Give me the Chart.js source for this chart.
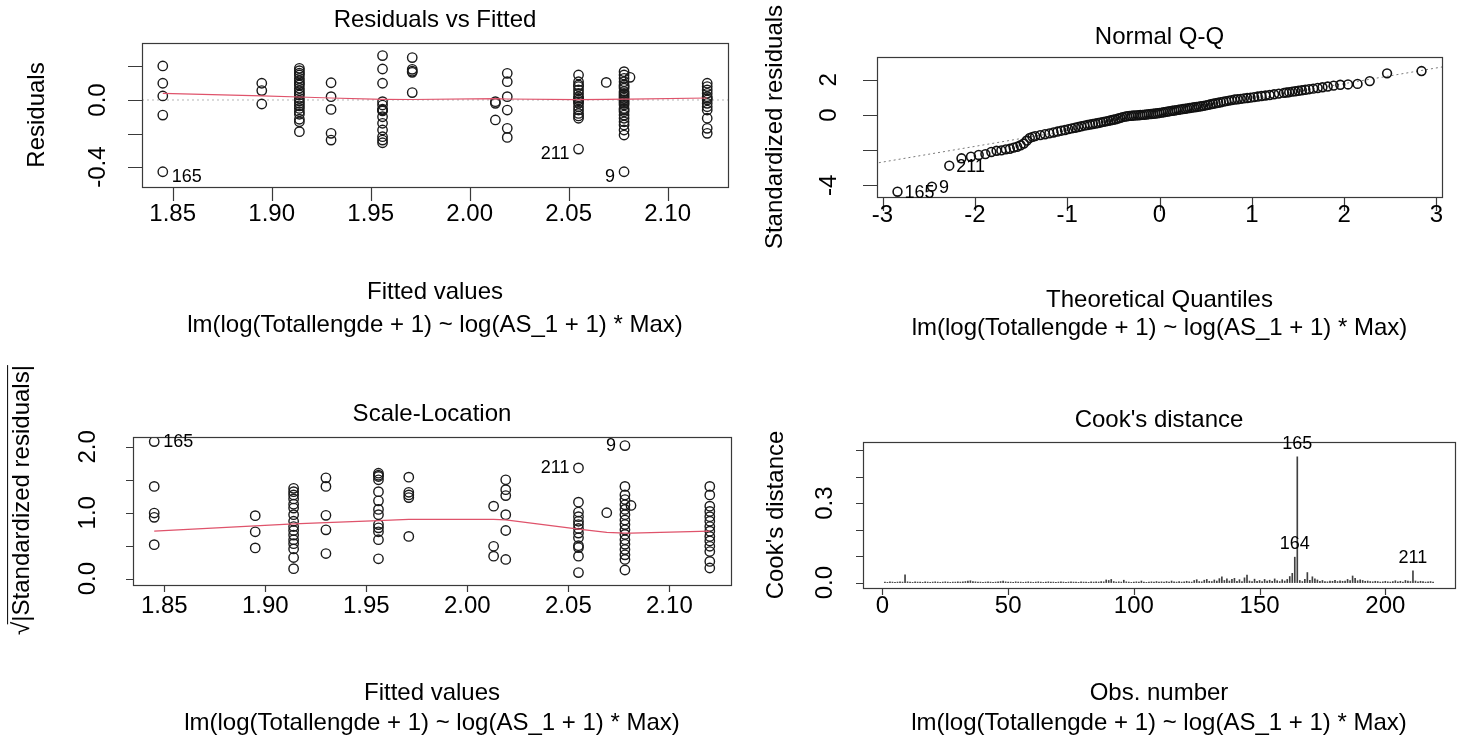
<!DOCTYPE html>
<html>
<head>
<meta charset="utf-8">
<title>lm diagnostics</title>
<script src="https://cdn.jsdelivr.net/npm/chart.js@4.4.1/dist/chart.umd.min.js"></script>
<style>
  html, body { margin: 0; padding: 0; background: #fff; }
  #page { position: relative; width: 1467px; height: 742px; overflow: hidden; }
  #page canvas { position: absolute; left: 0; top: 0; }
</style>
</head>
<body>
<div id="page">
  <canvas id="resFit" width="1467" height="742"></canvas>
  <canvas id="normQQ" width="1467" height="742"></canvas>
  <canvas id="scaleLoc" width="1467" height="742"></canvas>
  <canvas id="cooks" width="1467" height="742"></canvas>
</div>
<script>
// ---- values ----

// fitted values take only a few distinct levels
const fittedGroups = [1.845, 1.895, 1.914, 1.930, 1.956, 1.971, 2.013, 2.019, 2.055, 2.069, 2.078, 2.081, 2.120];

// residuals at each fitted level
const residualGroups = [
  [0.203, 0.100, 0.024, -0.090, -0.428],
  [0.100, 0.056, -0.024],
  [0.189, 0.175, 0.160, 0.149, 0.129, 0.115, 0.100, 0.090, 0.070, 0.055, 0.040, 0.030, 0.010, -0.005, -0.020, -0.035, -0.050, -0.070, -0.085, -0.115, -0.130, -0.189],
  [0.103, 0.020, -0.056, -0.199, -0.239],
  [0.265, 0.185, 0.100, -0.010, -0.030, -0.055, -0.060, -0.065, -0.100, -0.139, -0.179, -0.219, -0.239, -0.255],
  [0.253, 0.183, 0.172, 0.165, 0.044],
  [-0.010, -0.020, -0.119],
  [0.159, 0.109, 0.020, -0.060, -0.169, -0.223],
  [0.149, 0.109, 0.090, 0.080, 0.060, 0.040, 0.020, 0.010, 0.000, -0.010, -0.020, -0.040, -0.060, -0.080, -0.095, -0.109, -0.293],
  [0.105],
  [0.169, 0.149, 0.129, 0.109, 0.090, 0.080, 0.070, 0.050, 0.040, 0.030, 0.020, 0.010, 0.000, -0.010, -0.020, -0.030, -0.050, -0.060, -0.070, -0.090, -0.109, -0.130, -0.149, -0.179, -0.209, -0.428],
  [0.135],
  [0.100, 0.080, 0.060, 0.040, 0.020, 0.010, 0.000, -0.020, -0.040, -0.060, -0.109, -0.169, -0.199]
];

// sqrt(|standardized residuals|) at each fitted level
const sqrtStdResGroups = [
  [2.08, 1.40, 0.995, 0.93, 0.515],
  [0.955, 0.71, 0.465],
  [1.37, 1.32, 1.27, 1.21, 1.13, 1.07, 0.97, 0.87, 0.79, 0.73, 0.66, 0.59, 0.53, 0.45, 0.32, 0.15],
  [1.53, 1.40, 0.96, 0.74, 0.38],
  [1.60, 1.57, 1.55, 1.50, 1.32, 1.18, 1.05, 0.97, 0.82, 0.77, 0.71, 0.59, 0.30],
  [1.54, 1.31, 1.27, 1.23, 0.64],
  [1.10, 0.49, 0.34],
  [1.50, 1.35, 1.26, 0.97, 0.73, 0.29],
  [1.68, 1.16, 1.01, 0.94, 0.87, 0.82, 0.76, 0.69, 0.62, 0.50, 0.47, 0.34, 0.09],
  [1.00],
  [2.02, 1.40, 1.27, 1.20, 1.12, 1.05, 0.97, 0.89, 0.82, 0.74, 0.67, 0.59, 0.52, 0.44, 0.36, 0.29, 0.13],
  [1.11],
  [1.40, 1.27, 1.10, 1.02, 0.94, 0.87, 0.79, 0.72, 0.64, 0.57, 0.49, 0.41, 0.26, 0.16]
];

// red smoother, one value per fitted level
const residualSmooth = [0.040, 0.025, 0.018, 0.012, 0.004, 0.003, 0.008, 0.006, 0.002, 0.004, 0.005, 0.005, 0.012];
const scaleLocSmooth = [0.72, 0.80, 0.83, 0.85, 0.88, 0.90, 0.90, 0.89, 0.75, 0.70, 0.69, 0.69, 0.72];

// normal Q-Q
const qqTheoretical = [
  -2.838, -2.465, -2.277, -2.145, -2.042, -1.958, -1.886, -1.822, -1.765, -1.713,
  -1.665, -1.621, -1.580, -1.542, -1.505, -1.470, -1.437, -1.405, -1.375, -1.347,
  -1.292, -1.241, -1.193, -1.148, -1.105, -1.064, -1.024, -0.986, -0.950, -0.914,
  -0.880, -0.847, -0.814, -0.782, -0.752, -0.722, -0.693, -0.664, -0.635, -0.607,
  -0.580, -0.553, -0.527, -0.501, -0.475, -0.449, -0.424, -0.400, -0.375, -0.351,
  -0.327, -0.302, -0.279, -0.255, -0.231, -0.208, -0.184, -0.161, -0.138, -0.115,
  -0.092, -0.069, -0.046, -0.023, 0.000,
  0.023, 0.046, 0.069, 0.092, 0.115, 0.138, 0.161, 0.184, 0.208, 0.231,
  0.255, 0.279, 0.302, 0.327, 0.351, 0.375, 0.400, 0.424, 0.449, 0.475,
  0.501, 0.527, 0.553, 0.580, 0.607, 0.635, 0.664, 0.693, 0.722, 0.752,
  0.782, 0.814, 0.847, 0.880, 0.914, 0.950, 0.986, 1.024, 1.064, 1.105,
  1.148, 1.193, 1.241, 1.292,
  1.347, 1.375, 1.405, 1.437, 1.470, 1.505, 1.542, 1.580, 1.621, 1.665,
  1.713, 1.765, 1.822, 1.886, 1.958, 2.042, 2.145, 2.277, 2.465, 2.838
];
const qqStdResiduals = [
  -4.36, -4.07, -2.88, -2.46, -2.37, -2.27, -2.22, -2.10, -2.03, -2.01,
  -1.95, -1.92, -1.85, -1.80, -1.72, -1.62, -1.45, -1.30, -1.24, -1.20,
  -1.14, -1.09, -1.04, -0.99, -0.94, -0.89, -0.85, -0.80, -0.76, -0.72,
  -0.68, -0.64, -0.60, -0.57, -0.54, -0.51, -0.48, -0.45, -0.42, -0.39,
  -0.36, -0.33, -0.30, -0.27, -0.24, -0.20, -0.16, -0.12, -0.09, -0.07,
  -0.05, -0.04, -0.03, -0.02, -0.01, 0.00, 0.01, 0.02, 0.03, 0.05,
  0.06, 0.07, 0.09, 0.10, 0.12,
  0.14, 0.16, 0.18, 0.20, 0.22, 0.24, 0.26, 0.28, 0.30, 0.32,
  0.34, 0.36, 0.38, 0.40, 0.42, 0.44, 0.46, 0.48, 0.50, 0.52,
  0.55, 0.58, 0.61, 0.64, 0.67, 0.70, 0.73, 0.76, 0.79, 0.82,
  0.85, 0.88, 0.90, 0.92, 0.95, 0.97, 0.99, 1.02, 1.05, 1.08,
  1.11, 1.14, 1.18, 1.22,
  1.26, 1.28, 1.30, 1.33, 1.35, 1.38, 1.41, 1.44, 1.47, 1.50,
  1.54, 1.58, 1.62, 1.67, 1.72, 1.74, 1.77, 1.93, 2.37, 2.50
];
const qqLineX = [-3.2, 3.2];
const qqLineY = [-2.853, 2.857];

// Cook's distance for observations 1..219
const cooksDistance = [
  0.002, 0.001, 0.003, 0.002, 0.001, 0.002, 0.003, 0.002, 0.029, 0.003,
  0.002, 0.001, 0.003, 0.002, 0.002, 0.001, 0.003, 0.002, 0.001, 0.002,
  0.003, 0.002, 0.001, 0.002, 0.003, 0.002, 0.001, 0.002, 0.002, 0.003,
  0.002, 0.003, 0.004, 0.006, 0.007, 0.004, 0.003, 0.002, 0.002, 0.001,
  0.002, 0.003, 0.002, 0.001, 0.002, 0.003, 0.004, 0.006, 0.003, 0.002,
  0.002, 0.001, 0.003, 0.002, 0.002, 0.001, 0.002, 0.003, 0.002, 0.001,
  0.002, 0.003, 0.002, 0.001, 0.002, 0.003, 0.002, 0.002, 0.001, 0.002,
  0.003, 0.002, 0.001, 0.002, 0.003, 0.002, 0.002, 0.001, 0.003, 0.002,
  0.002, 0.001, 0.003, 0.002, 0.003, 0.002, 0.004, 0.003, 0.010, 0.008,
  0.012, 0.004, 0.002, 0.003, 0.002, 0.009, 0.003, 0.002, 0.001, 0.002,
  0.003, 0.002, 0.006, 0.002, 0.001, 0.002, 0.003, 0.002, 0.004, 0.002,
  0.003, 0.002, 0.004, 0.002, 0.006, 0.003, 0.002, 0.004, 0.002, 0.003,
  0.005, 0.003, 0.002, 0.008, 0.011, 0.004, 0.003, 0.009, 0.012, 0.005,
  0.004, 0.010, 0.006, 0.015, 0.022, 0.008, 0.014, 0.006, 0.012, 0.016,
  0.005, 0.011, 0.004, 0.018, 0.028, 0.006, 0.004, 0.013, 0.005, 0.008,
  0.004, 0.012, 0.006, 0.009, 0.005, 0.014, 0.007, 0.004, 0.011, 0.006,
  0.012, 0.023, 0.035, 0.096, 0.475, 0.008, 0.004, 0.012, 0.038, 0.009,
  0.022, 0.014, 0.010, 0.005, 0.008, 0.004, 0.003, 0.006, 0.005, 0.009,
  0.004, 0.007, 0.005, 0.006, 0.012, 0.008, 0.025, 0.016, 0.007, 0.010,
  0.008, 0.005, 0.006, 0.004, 0.003, 0.005, 0.004, 0.002, 0.003, 0.005,
  0.003, 0.002, 0.004, 0.007, 0.003, 0.005, 0.002, 0.008, 0.006, 0.004,
  0.044, 0.006, 0.003, 0.005, 0.004, 0.002, 0.003, 0.004, 0.002
];

// tick values and their printed labels ('' = tick without label)
const fitTicks = [1.85, 1.90, 1.95, 2.00, 2.05, 2.10];
const fitTickLabels = ['1.85', '1.90', '1.95', '2.00', '2.05', '2.10'];
const residTicks = [-0.4, -0.2, 0.0, 0.2];
const residTickLabels = ['-0.4', '', '0.0', ''];
const qqXTicks = [-3, -2, -1, 0, 1, 2, 3];
const qqXTickLabels = ['-3', '-2', '-1', '0', '1', '2', '3'];
const qqYTicks = [-4, -2, 0, 2];
const qqYTickLabels = ['-4', '', '0', '2'];
const slYTicks = [0, 0.5, 1.0, 1.5, 2.0];
const slYTickLabels = ['0.0', '', '1.0', '', '2.0'];
const obsTicks = [0, 50, 100, 150, 200];
const obsTickLabels = ['0', '50', '100', '150', '200'];
const cookYTicks = [0, 0.1, 0.2, 0.3, 0.4, 0.5];
const cookYTickLabels = ['0.0', '', '', '0.3', '', ''];

// labelled (extreme) observations
const resIdX = [1.845, 2.055, 2.078];
const resIdY = [-0.428, -0.293, -0.428];
const resIdText = ['165', '211', '9'];
const qqIdX = [-2.838, -2.465, -2.277];
const qqIdY = [-4.36, -4.07, -2.88];
const qqIdText = ['165', '9', '211'];
const slIdX = [1.845, 2.055, 2.078];
const slIdY = [2.08, 1.68, 2.02];
const slIdText = ['165', '211', '9'];
const cookIdX = [165, 164, 211];
const cookIdText = ['165', '164', '211'];

const modelCall = 'lm(log(Totallengde + 1) ~ log(AS_1 + 1) * Max)';

// ---- drawing ----
const FONT = '"Liberation Sans", Arial, sans-serif';
const W = 1467, H = 742;

function label(ctx, s, x, y, size, rotated, align) {
    if (!s) return;
    ctx.save();
    ctx.translate(x, y);
    if (rotated) ctx.rotate(-Math.PI / 2);
    ctx.font = (size || 24) + 'px ' + FONT;
    ctx.textAlign = align || 'center';
    ctx.textBaseline = 'middle';
    ctx.fillStyle = '#000';
    ctx.fillText(s, 0, 0);
    ctx.restore();
}

// sqrt(|Standardized residuals|) with a radical and overbar
function sqrtLabel(ctx, s, x, y, size) {
    ctx.save();
    ctx.translate(x, y);
    ctx.rotate(-Math.PI / 2);
    ctx.font = size + 'px ' + FONT;
    ctx.fillStyle = '#000';
    ctx.textBaseline = 'middle';
    ctx.textAlign = 'left';
    const wr = ctx.measureText('\u221A').width;
    const wt = ctx.measureText(s).width;
    const x0 = -(wr + wt) / 2;
    ctx.fillText('\u221A', x0, 0);
    ctx.fillText(s, x0 + wr, 0);
    ctx.strokeStyle = '#000';
    ctx.lineWidth = 1;
    ctx.beginPath();
    ctx.moveTo(x0 + wr * 0.8, -size * 0.6);
    ctx.lineTo(x0 + wr + wt, -size * 0.6);
    ctx.stroke();
    ctx.restore();
}

// layout of each panel, in page pixels
const frames = {
    resFit: {
        box: [142, 43, 728, 187], tick: 14,
        xTicks: fitTicks, xLabels: fitTickLabels, xLabY: 214,
        yTicks: residTicks, yLabels: residTickLabels, yLabX: 98,
        title: 'Residuals vs Fitted', titleY: 20,
        xTitle: 'Fitted values', xTitleY: 292, subY: 325,
        yTitle: 'Residuals', yTitleX: 37,
        ids: { x: resIdX, y: resIdY, t: resIdText, side: ['r', 'l', 'l'], dx: 9, dy: 5 }
    },
    normQQ: {
        box: [877, 57, 1442, 197], tick: 14,
        xTicks: qqXTicks, xLabels: qqXTickLabels, xLabY: 215,
        yTicks: qqYTicks, yLabels: qqYTickLabels, yLabX: 829,
        title: 'Normal Q-Q', titleY: 37,
        xTitle: 'Theoretical Quantiles', xTitleY: 300, subY: 328,
        yTitle: 'Standardized residuals', yTitleX: 775,
        ids: { x: qqIdX, y: qqIdY, t: qqIdText, side: ['r', 'r', 'r'], dx: 7, dy: 1 }
    },
    scaleLoc: {
        box: [133, 437, 731, 585], tick: 7,
        xTicks: fitTicks, xLabels: fitTickLabels, xLabY: 606,
        yTicks: slYTicks, yLabels: slYTickLabels, yLabX: 88,
        title: 'Scale-Location', titleY: 414,
        xTitle: 'Fitted values', xTitleY: 693, subY: 723,
        sqrtTitle: '|Standardized residuals|', yTitleX: 22, yTitleY: 500,
        ids: { x: slIdX, y: slIdY, t: slIdText, side: ['r', 'l', 'l'], dx: 9, dy: 0 }
    },
    cooks: {
        box: [863, 442, 1455, 588], tick: 7,
        xTicks: obsTicks, xLabels: obsTickLabels, xLabY: 606,
        yTicks: cookYTicks, yLabels: cookYTickLabels, yLabX: 825,
        title: "Cook's distance", titleY: 420,
        xTitle: 'Obs. number', xTitleY: 693, subY: 723,
        yTitle: "Cook's distance", yTitleX: 776,
        ids: { x: cookIdX, y: cookIdX.map(i => cooksDistance[i - 1]), t: cookIdText, side: ['t', 't', 't'], dx: 0, dy: -13 }
    }
};

const rFrame = {
    id: 'rFrame',
    afterDraw(chart) {
        const f = frames[chart.canvas.id];
        const ctx = chart.ctx, a = chart.chartArea;
        const sx = chart.scales.x, sy = chart.scales.y;
        ctx.save();
        ctx.strokeStyle = '#3a3a3a';
        ctx.lineWidth = 1.2;
        ctx.strokeRect(a.left + 0.5, a.top + 0.5, a.right - a.left, a.bottom - a.top);

        // ticks outside the box
        ctx.beginPath();
        f.xTicks.forEach(v => {
            const p = Math.round(sx.getPixelForValue(v)) + 0.5;
            ctx.moveTo(p, a.bottom);
            ctx.lineTo(p, a.bottom + f.tick);
        });
        f.yTicks.forEach(v => {
            const p = Math.round(sy.getPixelForValue(v)) + 0.5;
            ctx.moveTo(a.left, p);
            ctx.lineTo(a.left - f.tick, p);
        });
        ctx.stroke();

        f.xTicks.forEach((v, i) => label(ctx, f.xLabels[i], sx.getPixelForValue(v), f.xLabY));
        f.yTicks.forEach((v, i) => label(ctx, f.yLabels[i], f.yLabX, sy.getPixelForValue(v), 24, true));

        const cx = (a.left + a.right) / 2, cy = (a.top + a.bottom) / 2;
        label(ctx, f.title, cx, f.titleY);
        label(ctx, f.xTitle, cx, f.xTitleY);
        label(ctx, modelCall, cx, f.subY);
        if (f.sqrtTitle) sqrtLabel(ctx, f.sqrtTitle, f.yTitleX, f.yTitleY, 24);
        else label(ctx, f.yTitle, f.yTitleX, cy, 24, true);

        // ids of the extreme observations
        const id = f.ids;
        id.x.forEach((v, i) => {
            const px = sx.getPixelForValue(v), py = sy.getPixelForValue(id.y[i]);
            if (id.side[i] === 'r') label(ctx, id.t[i], px + id.dx, py + id.dy, 18, false, 'left');
            else if (id.side[i] === 'l') label(ctx, id.t[i], px - id.dx, py + id.dy, 18, false, 'right');
            else label(ctx, id.t[i], px, py + id.dy, 18);
        });
        ctx.restore();
    }
};

function baseOptions(id, xMin, xMax, yMin, yMax) {
    const b = frames[id].box;
    return {
        responsive: false,
        animation: false,
        events: [],
        layout: { padding: { left: b[0], top: b[1], right: W - b[2], bottom: H - b[3] } },
        plugins: { legend: { display: false }, tooltip: { enabled: false } },
        scales: {
            x: { type: 'linear', display: false, min: xMin, max: xMax, offset: false },
            y: { type: 'linear', display: false, min: yMin, max: yMax }
        }
    };
}

function groupPoints(groups) {
    const pts = [];
    groups.forEach((vals, i) => vals.forEach(v => pts.push({ x: fittedGroups[i], y: v })));
    return pts;
}

const circles = {
    showLine: false,
    pointStyle: 'circle',
    pointRadius: 4.7,
    pointBorderWidth: 1.4,
    pointBorderColor: '#1a1a1a',
    pointBackgroundColor: 'rgba(0,0,0,0)'
};
const smoothLine = { showLine: true, pointRadius: 0, borderColor: '#DF536B', borderWidth: 1.2, tension: 0 };
const fitRange = [1.8345, 2.1305];

// Residuals vs Fitted
new Chart(document.getElementById('resFit'), {
    type: 'scatter',
    data: {
        datasets: [
            Object.assign({ data: fittedGroups.map((x, i) => ({ x: x, y: residualSmooth[i] })) }, smoothLine),
            Object.assign({ data: groupPoints(residualGroups) }, circles),
            { data: fitRange.map(x => ({ x: x, y: 0 })), showLine: true, pointRadius: 0,
              borderColor: '#b5b5b5', borderWidth: 1, borderDash: [2, 3] }
        ]
    },
    options: baseOptions('resFit', fitRange[0], fitRange[1], -0.519, 0.340),
    plugins: [rFrame]
});

// Normal Q-Q
new Chart(document.getElementById('normQQ'), {
    type: 'scatter',
    data: {
        datasets: [
            Object.assign({ data: qqTheoretical.map((x, i) => ({ x: x, y: qqStdResiduals[i] })) },
                circles, { pointRadius: 4.4, pointBorderWidth: 1.6, pointBorderColor: '#111' }),
            { data: qqLineX.map((x, i) => ({ x: x, y: qqLineY[i] })), showLine: true, pointRadius: 0,
              borderColor: '#7a7a7a', borderWidth: 1, borderDash: [2, 3] }
        ]
    },
    options: baseOptions('normQQ', -3.06, 3.06, -4.66, 3.30),
    plugins: [rFrame]
});

// Scale-Location
new Chart(document.getElementById('scaleLoc'), {
    type: 'scatter',
    data: {
        datasets: [
            Object.assign({ data: fittedGroups.map((x, i) => ({ x: x, y: scaleLocSmooth[i] })) }, smoothLine),
            Object.assign({ data: groupPoints(sqrtStdResGroups) }, circles)
        ]
    },
    options: baseOptions('scaleLoc', fitRange[0], fitRange[1], -0.098, 2.15),
    plugins: [rFrame]
});

// Cook's distance
new Chart(document.getElementById('cooks'), {
    type: 'bar',
    data: {
        datasets: [{
            data: cooksDistance.map((d, i) => ({ x: i + 1, y: d })),
            backgroundColor: '#404040',
            borderWidth: 0,
            barThickness: 1
        }]
    },
    options: baseOptions('cooks', -7.72, 227.72, -0.0204, 0.531),
    plugins: [rFrame]
});
</script>
</body>
</html>
